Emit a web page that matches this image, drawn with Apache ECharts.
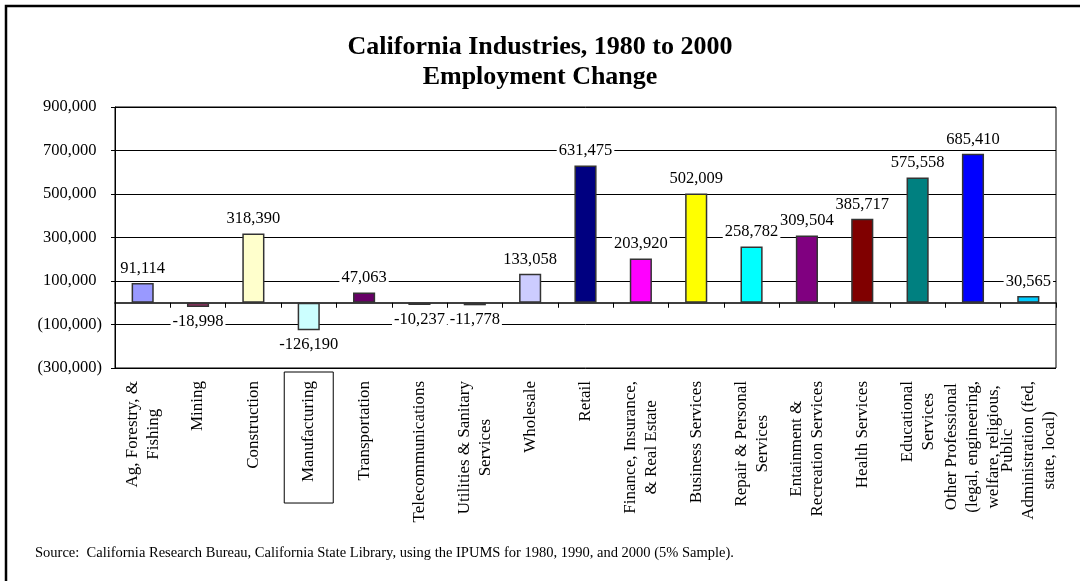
<!DOCTYPE html>
<html>
<head>
<meta charset="utf-8">
<title>California Industries, 1980 to 2000 - Employment Change</title>
<script src="https://cdn.jsdelivr.net/npm/echarts@6/dist/echarts.min.js"></script>
<style>
  html, body { margin: 0; padding: 0; background: #fff; }
  #chart { width: 1080px; height: 581px; }
</style>
</head>
<body>
<div id="chart"></div>
<script>
// Industry categories (line breaks as they wrap under the axis)
const industries = [
  'Ag, Forestry, &\nFishing',
  'Mining',
  'Construction',
  'Manufacturing',
  'Transportation',
  'Telecommunications',
  'Utilities & Sanitary\nServices',
  'Wholesale',
  'Retail',
  'Finance, Insurance,\n& Real Estate',
  'Business Services',
  'Repair & Personal\nServices',
  'Entainment &\nRecreation Services',
  'Health Services',
  'Educational\nServices',
  'Other Professional\n(legal, engineering,\nwelfare, religious,',
  'Public\nAdministration (fed,\nstate, local)'
];

// Employment change 1980 -> 2000
const employmentChange = [
  91114, -18998, 318390, -126190, 47063, -10237, -11778, 133058,
  631475, 203920, 502009, 258782, 309504, 385717, 575558, 685410, 30565
];

// Bar fill colours, one per industry
const barColors = [
  '#9999FF', '#993366', '#FFFFCC', '#CCFFFF', '#660066', '#FF8080',
  '#0066CC', '#CCCCFF', '#000080', '#FF00FF', '#FFFF00', '#00FFFF',
  '#800080', '#800000', '#008080', '#0000FF', '#00CCFF'
];

// Value-axis tick labels, bottom to top (-300,000 ... 900,000 in steps of 200,000)
const yTickLabels = ['(300,000)', '(100,000)', '100,000', '300,000', '500,000', '700,000', '900,000'];
const yMin = -300000;
const yMax = 900000;

const titleText = 'California Industries, 1980 to 2000\nEmployment Change';
const sourceText = 'Source:  California Research Bureau, California State Library, using the IPUMS for 1980, 1990, and 2000 (5% Sample).';

const FONT = "'Liberation Serif', 'Times New Roman', serif";

const fmt = v => (v < 0 ? '-' : '') + Math.abs(v).toLocaleString('en-US');

// Category labels: every line centred, the Manufacturing label framed
const labelData = industries.map(name => {
  if (name === 'Manufacturing') {
    return {
      value: name,
      textStyle: {
        borderColor: '#000',
        borderWidth: 1,
        padding: [14, 9, 14, 21]
      }
    };
  }
  return name;
});

const chart = echarts.init(document.getElementById('chart'), null, { renderer: 'canvas' });

chart.setOption({
  animation: false,
  backgroundColor: '#fff',
  textStyle: { fontFamily: FONT },
  title: [
    {
      text: titleText,
      left: 'center',
      top: 32,
      padding: 0,
      textStyle: {
        fontFamily: FONT,
        fontSize: 26,
        fontWeight: 'bold',
        lineHeight: 30,
        color: '#000'
      }
    },
    {
      text: sourceText,
      left: 35,
      top: 546,
      padding: 0,
      textStyle: {
        fontFamily: FONT,
        fontSize: 14.5,
        fontWeight: 'normal',
        color: '#000'
      }
    }
  ],
  graphic: [
    {
      type: 'rect',
      shape: { x: 6, y: 6, width: 1200, height: 700 },
      style: { fill: 'none', stroke: '#000', lineWidth: 2.5 },
      silent: true
    }
  ],
  grid: {
    left: 115,
    right: 24,
    top: 107,
    bottom: 213,
    show: true,
    borderColor: '#000',
    borderWidth: 1
  },
  xAxis: [
    {
      // axis line through zero with boundary ticks
      type: 'category',
      data: industries,
      position: 'bottom',
      boundaryGap: true,
      axisLine: { show: true, onZero: true, onZeroAxisIndex: 0, lineStyle: { color: '#000', width: 1.5 } },
      axisTick: { show: true, interval: 0, length: 5, lineStyle: { color: '#000', width: 1 } },
      axisLabel: { show: false },
      splitLine: { show: false }
    },
    {
      // category names under the plot area
      type: 'category',
      data: labelData,
      position: 'bottom',
      boundaryGap: true,
      axisLine: { show: false, onZero: false },
      axisTick: { show: false },
      splitLine: { show: false },
      axisLabel: {
        show: true,
        interval: 0,
        rotate: 90,
        margin: 4,
        padding: [0, 9, 0, 0],
        formatter: v => v.split('\n').map(s => '{c|' + s + '}').join('\n'),
        rich: {
          c: {
            align: 'center',
            fontFamily: FONT,
            fontSize: 17,
            lineHeight: 21,
            color: '#000'
          }
        }
      }
    }
  ],
  yAxis: [
    {
      // data scale
      type: 'value',
      min: yMin,
      max: yMax,
      show: false,
      splitLine: { show: false }
    },
    {
      // gridlines and tick labels: one step per 100,000 from the minimum
      type: 'value',
      position: 'left',
      min: 0,
      max: (yMax - yMin) / 100000,
      interval: 2,
      axisLine: { show: true, lineStyle: { color: '#000', width: 1 } },
      axisTick: { show: true, length: 4, lineStyle: { color: '#000' } },
      splitLine: { show: true, lineStyle: { color: '#000', width: 1 } },
      axisLabel: {
        margin: 13,
        formatter: v => {
          const t = yTickLabels[Math.round(v / 2)];
          return t.charAt(0) === '(' ? '{n|' + t + '}' : '{p|' + t + '}';
        },
        rich: {
          n: { fontFamily: FONT, fontSize: 16.5, color: '#000' },
          p: { fontFamily: FONT, fontSize: 16.5, color: '#000', padding: [0, 5.5, 0, 0] }
        }
      }
    }
  ],
  series: [
    {
      type: 'bar',
      xAxisIndex: 0,
      yAxisIndex: 0,
      barWidth: '40%',
      z: 3,
      data: employmentChange.map((v, i) => ({
        value: v,
        itemStyle: { color: barColors[i] },
        label: { position: v < 0 ? 'bottom' : 'top' }
      })),
      itemStyle: { borderColor: '#333', borderWidth: 1.5 },
      label: {
        show: true,
        distance: 6,
        formatter: p => fmt(p.value),
        fontFamily: FONT,
        fontSize: 16.5,
        color: '#000',
        backgroundColor: '#fff',
        padding: [0, 2]
      }
    }
  ]
});
</script>
</body>
</html>
